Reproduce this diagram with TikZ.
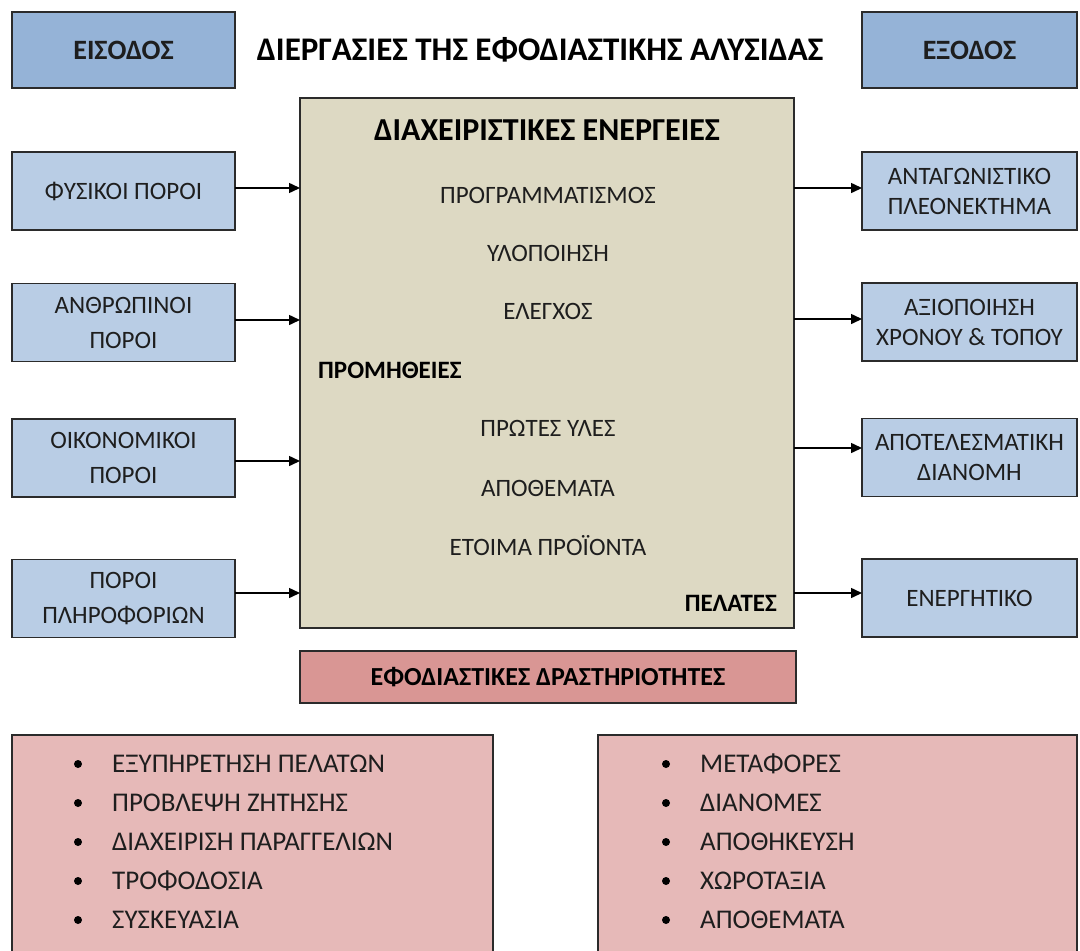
\documentclass[tikz,border=0pt]{standalone}
\usepackage{fontspec}
\setmainfont{Carlito}
\usetikzlibrary{arrows.meta,calc}
\definecolor{hdrblue}{HTML}{95B3D7}
\definecolor{lightblue}{HTML}{B9CDE5}
\definecolor{tanbox}{HTML}{DDD9C3}
\definecolor{rosered}{HTML}{D99694}
\definecolor{rosepink}{HTML}{E6B9B8}
\definecolor{edge}{HTML}{2B2B2B}
\definecolor{txt}{HTML}{1E1E1E}
\begin{document}
\begin{tikzpicture}[x=1pt,y=-1pt,
  frame/.style={draw=edge,line width=1.8pt,inner sep=0pt,outer sep=0pt,anchor=center},
  hdr/.style={frame,fill=hdrblue,minimum width=223pt,minimum height=76pt,font=\fontsize{28}{32}\selectfont\bfseries,text=txt},
  lbox/.style={frame,fill=lightblue,minimum width=223pt,minimum height=78pt,align=center,font=\fontsize{25}{35}\selectfont,text=txt},
  rbox/.style={frame,fill=lightblue,minimum width=215pt,minimum height=78pt,align=center,font=\fontsize{25}{30}\selectfont,text=txt},
  plain/.style={font=\fontsize{25}{30}\selectfont,text=txt,inner sep=0pt},
  boldtxt/.style={font=\fontsize{25}{30}\selectfont\bfseries,text=black,inner sep=0pt},
  bigbold/.style={font=\fontsize{33}{38}\selectfont\bfseries,text=black,inner sep=0pt},
  arr/.style={line width=1.5pt,-{Triangle[length=11pt,width=10pt]}},
  bul/.style={circle,fill=black,inner sep=0pt,minimum size=8pt},
  item/.style={font=\fontsize{27}{32}\selectfont,text=txt,inner sep=0pt,anchor=west}
]
\useasboundingbox (0,0) rectangle (1080,951);
\fill[white] (0,0) rectangle (1080,951);

% headers
\node[hdr] (in) at (123.5,50) {ΕΙΣΟΔΟΣ};
\node[hdr,minimum width=215pt] (out) at (969.5,50) {ΕΞΟΔΟΣ};
\node[bigbold] (ttl) at (540,50) {ΔΙΕΡΓΑΣΙΕΣ ΤΗΣ ΕΦΟΔΙΑΣΤΙΚΗΣ ΑΛΥΣΙΔΑΣ};

% main box
\node[frame,fill=tanbox,minimum width=494pt,minimum height=530pt] (main) at (547,363) {};
\node[bigbold,font=\fontsize{32}{38}\selectfont\bfseries] (mt) at (547,130) {ΔΙΑΧΕΙΡΙΣΤΙΚΕΣ ΕΝΕΡΓΕΙΕΣ};
\node[plain] (m1) at (548,195) {ΠΡΟΓΡΑΜΜΑΤΙΣΜΟΣ};
\node[plain] (m2) at (548,253) {ΥΛΟΠΟΙΗΣΗ};
\node[plain] (m3) at (548,311) {ΕΛΕΓΧΟΣ};
\node[boldtxt,anchor=west] (prom) at (318,370) {ΠΡΟΜΗΘΕΙΕΣ};
\node[plain] (m4) at (548,428) {ΠΡΩΤΕΣ ΥΛΕΣ};
\node[plain] (m5) at (548,488) {ΑΠΟΘΕΜΑΤΑ};
\node[plain] (m6) at (548,546) {ΕΤΟΙΜΑ ΠΡΟΪΟΝΤΑ};
\node[boldtxt,anchor=east] (pel) at (777,603) {ΠΕΛΑΤΕΣ};

% left boxes
\node[lbox] (l1) at (123.5,191) {ΦΥΣΙΚΟΙ ΠΟΡΟΙ};
\node[lbox] (l2) at (123.5,322.5) {ΑΝΘΡΩΠΙΝΟΙ\\ΠΟΡΟΙ};
\node[lbox] (l3) at (123.5,458) {ΟΙΚΟΝΟΜΙΚΟΙ\\ΠΟΡΟΙ};
\node[lbox] (l4) at (123.5,598.5) {ΠΟΡΟΙ\\ΠΛΗΡΟΦΟΡΙΩΝ};

% right boxes
\node[rbox] (r1) at (969.5,191) {ΑΝΤΑΓΩΝΙΣΤΙΚΟ\\ΠΛΕΟΝΕΚΤΗΜΑ};
\node[rbox] (r2) at (969.5,322) {ΑΞΙΟΠΟΙΗΣΗ\\ΧΡΟΝΟΥ \& ΤΟΠΟΥ};
\node[rbox] (r3) at (969.5,457.5) {ΑΠΟΤΕΛΕΣΜΑΤΙΚΗ\\ΔΙΑΝΟΜΗ};
\node[rbox] (r4) at (969.5,598) {ΕΝΕΡΓΗΤΙΚΟ};

% arrow levels
\coordinate (la1) at ($(l1.east)+(0,-3)$);
\coordinate (la2) at ($(l2.east)+(0,-2.5)$);
\coordinate (la3) at ($(l3.east)+(0,3)$);
\coordinate (la4) at ($(l4.east)+(0,-5.5)$);
\coordinate (ra1) at ($(r1.west)+(0,-3)$);
\coordinate (ra2) at ($(r2.west)+(0,-3)$);
\coordinate (ra3) at ($(r3.west)+(0,-9.5)$);
\coordinate (ra4) at ($(r4.west)+(0,-5)$);
\foreach \i in {1,2,3,4}{
  \draw[arr] (la\i) -- (la\i -| main.west);
  \draw[arr] (ra\i -| main.east) -- (ra\i);
}

% logistics activities
\node[frame,fill=rosered,minimum width=496pt,minimum height=52pt,font=\fontsize{26}{30}\selectfont\bfseries,text=black] (efod) at (548,677) {ΕΦΟΔΙΑΣΤΙΚΕΣ ΔΡΑΣΤΗΡΙΟΤΗΤΕΣ};

\begin{scope}
\clip (0,0) rectangle (1080,951);
\node[frame,fill=rosepink,minimum width=481pt,minimum height=230pt] (bl) at (252.5,850) {};
\node[frame,fill=rosepink,minimum width=479pt,minimum height=230pt] (br) at (837.5,850) {};
\end{scope}

\foreach \t [count=\k] in {ΕΞΥΠΗΡΕΤΗΣΗ ΠΕΛΑΤΩΝ,ΠΡΟΒΛΕΨΗ ΖΗΤΗΣΗΣ,ΔΙΑΧΕΙΡΙΣΗ ΠΑΡΑΓΓΕΛΙΩΝ,ΤΡΟΦΟΔΟΣΙΑ,ΣΥΣΚΕΥΑΣΙΑ}{
  \node[bul] (lb\k) at (78,{764+39*(\k-1)}) {};
  \node[item] (li\k) at (112,{764+39*(\k-1)}) {\t};
}
\foreach \t [count=\k] in {ΜΕΤΑΦΟΡΕΣ,ΔΙΑΝΟΜΕΣ,ΑΠΟΘΗΚΕΥΣΗ,ΧΩΡΟΤΑΞΙΑ,ΑΠΟΘΕΜΑΤΑ}{
  \node[bul] (rb\k) at (666,{764+39*(\k-1)}) {};
  \node[item] (ri\k) at (700,{764+39*(\k-1)}) {\t};
}
\end{tikzpicture}
\end{document}
